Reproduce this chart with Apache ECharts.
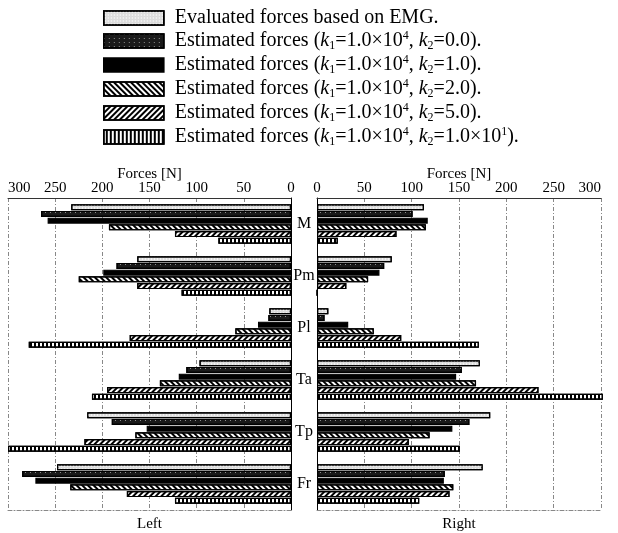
<!DOCTYPE html>
<html>
<head>
<meta charset="utf-8">
<script src="https://cdn.jsdelivr.net/npm/echarts@6/dist/echarts.min.js"></script>
<style>
  html, body { margin: 0; padding: 0; background: #fff; }
  #chart { width: 618px; height: 533px; }
</style>
</head>
<body>
<div id="chart"></div>
<script>
// muscles
const categories = ["M", "Pm", "Pl", "Ta", "Tp", "Fr"];
const forceTicks = [0, 50, 100, 150, 200, 250, 300];

// left side forces [N]
const leftEMG = [233, 163, 23, 97, 216, 248];
const leftK0 = [265, 185, 24, 111, 190, 285];
const leftK1 = [258, 199, 35, 119, 153, 271];
const leftK2 = [193, 225, 59, 139, 165, 234];
const leftK5 = [123, 163, 171, 195, 219, 174];
const leftK10 = [77, 116, 278, 211, 300, 123];

// right side forces [N]
const rightEMG = [113, 79, 12, 172, 183, 175];
const rightK0 = [101, 71, 8, 153, 161, 135];
const rightK1 = [117, 66, 33, 147, 143, 134];
const rightK2 = [115, 54, 60, 168, 119, 144];
const rightK5 = [84, 31, 89, 234, 97, 140];
const rightK10 = [22, 0, 171, 302, 151, 108];

const seriesNames = ["emg", "k0", "k1", "k2", "k5", "k10"];
const k2Labels = { k0: "0.0", k1: "1.0", k2: "2.0", k5: "5.0" };

const FONT = "Liberation Serif";

// fill patterns of the print
const styles = {
  emg: { color: "#dcdcdc", decal: { symbol: "circle", symbolSize: 0.7, color: "#fff", dashArrayX: [3, 0], dashArrayY: [2, 1] } },
  k0: { color: "#1a1a1a", decal: { symbol: "rect", symbolSize: 0.8, color: "#aaa", dashArrayX: [1, 4], dashArrayY: [1, 3] } },
  k1: { color: "#000" },
  k2: { color: "#fff", decal: { symbol: "rect", symbolSize: 1, color: "#000", dashArrayX: [1, 0], dashArrayY: [2, 2], rotation: Math.PI / 4 } },
  k5: { color: "#fff", decal: { symbol: "rect", symbolSize: 1, color: "#000", dashArrayX: [1, 0], dashArrayY: [2, 2], rotation: -Math.PI / 4 } },
  k10: { color: "#fff", decal: { symbol: "rect", symbolSize: 1, color: "#000", dashArrayX: [1, 0], dashArrayY: [2, 1.2], rotation: Math.PI / 2 } },
};

const leftData = [leftEMG, leftK0, leftK1, leftK2, leftK5, leftK10];
const rightData = [rightEMG, rightK0, rightK1, rightK2, rightK5, rightK10];

const makeSeries = (data, axisIdx) =>
  seriesNames.map((name, i) => ({
    name,
    type: "bar",
    xAxisIndex: axisIdx,
    yAxisIndex: axisIdx === 0 ? 0 : 1,
    data: data[i],
    barWidth: 6,
    barGap: "12%",
    clip: false,
    itemStyle: { ...styles[name], borderColor: "#000", borderWidth: 1.2 },
  }));

const valueAxis = (gridIndex, inverse) => ({
  type: "value",
  gridIndex,
  inverse,
  position: "top",
  min: 0,
  max: 300,
  interval: 50,
  name: "Forces [N]",
  nameLocation: "middle",
  nameGap: 16,
  nameMoveOverlap: false,
  nameTextStyle: { fontFamily: FONT, fontSize: 15, color: "#000" },
  axisLine: { show: true, lineStyle: { color: "#333", width: 1 } },
  axisTick: { show: false },
  axisLabel: {
    fontFamily: FONT, fontSize: 15, color: "#000", margin: 2,
    alignMaxLabel: inverse ? "left" : "right",
  },
  splitLine: { show: true, lineStyle: { color: "#888", type: [4, 2, 1, 2] } },
});

const bottomAxis = (gridIndex, label) => ({
  type: "value",
  gridIndex,
  position: "bottom",
  min: 0,
  max: 300,
  name: label,
  nameLocation: "middle",
  nameGap: 7,
  nameTextStyle: { fontFamily: FONT, fontSize: 15, color: "#000", verticalAlign: "top" },
  axisLine: { show: true, lineStyle: { color: "#888", type: [4, 2, 1, 2] } },
  axisTick: { show: false },
  axisLabel: { show: false },
  splitLine: { show: false },
});

const option = {
  animation: false,
  textStyle: { fontFamily: FONT },
  legend: {
    orient: "vertical",
    left: 103,
    top: 8,
    padding: 0,
    itemWidth: 60,
    itemHeight: 14,
    itemGap: 2,
    icon: "rect",
    selectedMode: false,
    data: seriesNames,
    itemStyle: { borderWidth: 1.6, borderColor: "#000" },
    textStyle: {
      fontFamily: FONT, fontSize: 20, color: "#000", padding: [0, 0, 0, 6],
      rich: {
        t: { fontFamily: FONT, fontSize: 20, color: "#000", lineHeight: 22 },
        i: { fontFamily: FONT, fontSize: 20, color: "#000", fontStyle: "italic", lineHeight: 22 },
        sub: { fontFamily: FONT, fontSize: 12, color: "#000", lineHeight: 12, verticalAlign: "bottom" },
        sup: { fontFamily: FONT, fontSize: 12, color: "#000", lineHeight: 12, verticalAlign: "top" },
      },
    },
    formatter: (name) => {
      if (name === "emg") return "{t|Evaluated forces based on EMG.}";
      const k2 = name === "k10" ? "1.0×10}{sup|1}{t|" : k2Labels[name];
      return "{t|Estimated forces (}{i|k}{sub|1}{t|=1.0×10}{sup|4}{t|, }{i|k}{sub|2}{t|=" + k2 + ").}";
    },
  },
  grid: [
    { left: 8, right: 327, top: 198, bottom: 23, outerBoundsMode: "none" },
    { left: 317, right: 17, top: 198, bottom: 23, outerBoundsMode: "none" },
  ],
  xAxis: [
    valueAxis(0, true),
    valueAxis(1, false),
    bottomAxis(0, "Left"),
    bottomAxis(1, "Right"),
  ],
  yAxis: [
    {
      type: "category",
      gridIndex: 0,
      data: categories,
      inverse: true,
      position: "right",
      axisLine: { show: true, lineStyle: { color: "#000", width: 1 } },
      axisTick: { show: false },
      axisLabel: { fontFamily: FONT, fontSize: 16, color: "#000", align: "center", margin: 13 },
    },
    {
      type: "category",
      gridIndex: 1,
      data: categories,
      inverse: true,
      position: "left",
      axisLine: { show: true, lineStyle: { color: "#000", width: 1 } },
      axisTick: { show: false },
      axisLabel: { show: false },
    },
  ],
  series: [...makeSeries(leftData, 0), ...makeSeries(rightData, 1)],
};

const chart = echarts.init(document.getElementById("chart"));
chart.setOption(option);
</script>
</body>
</html>
